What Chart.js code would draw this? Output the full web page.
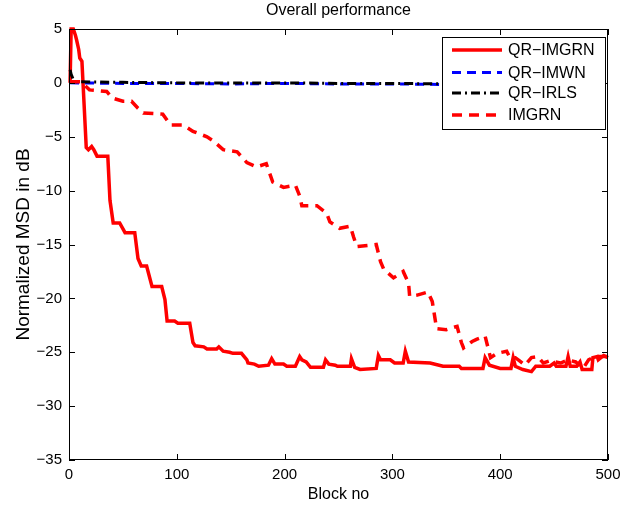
<!DOCTYPE html>
<html>
<head>
<meta charset="utf-8">
<script src="https://cdn.jsdelivr.net/npm/chart.js@4.4.1/dist/chart.umd.min.js"></script>
<style>
  body { margin: 0; background: #fff; }
  #wrap { width: 620px; height: 511px; }
</style>
</head>
<body>
<div id="wrap"><canvas id="msdChart" width="620" height="511"></canvas></div>
<script>
// Datos: [bloque, dB]
const qrImgrn = [
  [1, 0], [2, 5], [4, 5], [6, 4.4], [7, 4], [9, 3.1], [10, 2.3], [12, 2], [13, 0], [16, -6],
  [18, -6.2], [21, -5.9], [23, -6.2], [26, -6.8], [36, -6.8], [38, -10.9], [41, -13], [47, -13],
  [52, -13.9], [61, -13.9], [64, -16.3], [67, -17], [72, -17], [77, -18.9], [86, -18.9], [89, -20.1],
  [91, -22.1], [98, -22.1], [101, -22.3], [112, -22.3], [115, -24.1], [117, -24.4], [125, -24.5],
  [128, -24.7], [137, -24.7], [139, -24.5], [143, -24.9], [149, -25], [152, -25.1], [160, -25.1],
  [165, -25.7], [166, -26], [172, -26.1], [176, -26.3], [185, -26.2], [188, -25.6], [191, -26.1],
  [199, -26.1], [202, -26.3], [210, -26.3], [214, -25.4], [216, -25.7], [220, -25.9], [224, -26.4],
  [236, -26.4], [238, -25.7], [241, -26.1], [247, -26.2], [249, -26.3], [261, -26.3], [262, -25.6],
  [265, -26.4], [270, -26.6], [285, -26.5], [287, -25.3], [289, -25.7], [298, -25.7], [302, -26],
  [310, -26], [312, -24.9], [315, -25.9], [335, -26], [347, -26.3], [362, -26.3], [364, -26.5],
  [384, -26.5], [386, -25.5], [390, -26.2], [400, -26.5], [410, -26.5], [412, -25.5], [414, -26.3],
  [421, -26.6], [429, -26.8], [433, -26.3], [446, -26.3], [450, -26], [452, -26.3], [461, -26.3],
  [463, -25.4], [465, -26.3], [471, -26.3], [474, -25.9], [476, -26.6], [485, -26.6], [486, -25.5],
  [490, -25.4], [491, -25.7], [496, -25.3], [500, -25.5]
];
const qrImwn = [
  [1, 0], [50, -0.05], [100, -0.05], [150, -0.1], [200, -0.05], [250, -0.1], [300, -0.1],
  [350, -0.15], [400, -0.15], [450, -0.2], [500, -0.2]
];
const qrIrls = [
  [1, 1.2], [2, 0.8], [4, 0.3], [6, 0.1], [50, 0.05], [100, 0], [150, 0], [200, 0],
  [250, -0.05], [300, -0.05], [350, -0.1], [400, -0.1], [450, -0.1], [500, -0.15]
];
const imgrn = [
  [1, 0.1], [11, 0.1], [19, -0.65], [35, -0.8], [40, -1.4], [50, -1.7], [58, -1.7], [64, -2.35],
  [69, -2.8], [87, -2.9], [94, -3.9], [106, -3.9], [115, -4.5], [128, -5], [134, -5.4], [143, -6.2],
  [156, -6.4], [165, -7.4], [174, -7.8], [183, -7.5], [189, -9.2], [199, -9.7], [210, -9.5],
  [214, -10.5], [216, -11.4], [230, -11.4], [239, -12.1], [242, -12.9], [251, -13.5], [261, -13.3],
  [264, -14.3], [267, -15.2], [285, -15], [289, -16.6], [292, -17.3], [301, -18.1], [310, -17.5],
  [315, -18.6], [316, -19.8], [323, -19.7], [333, -19.4], [337, -20.3], [341, -22.8], [350, -22.9],
  [360, -22.6], [364, -24.1], [366, -24.6], [374, -24], [378, -23.8], [386, -23.5], [388, -24.3],
  [391, -25.5], [397, -25.1], [406, -24.9], [409, -25.5], [414, -25.5], [418, -25.8], [423, -26.2],
  [429, -25.5], [435, -25.4], [440, -26], [446, -25.8], [456, -26], [463, -25.7], [470, -25.9],
  [477, -26.5], [482, -25.7], [488, -25.4], [500, -25.4]
];
const seriesNames = ['QR\u2212IMGRN', 'QR\u2212IMWN', 'QR\u2212IRLS', 'IMGRN'];
const xTicks = [0, 100, 200, 300, 400, 500];
const yTicks = [5, 0, -5, -10, -15, -20, -25, -30, -35];

const FONT = '"Liberation Sans", Arial, Helvetica, sans-serif';
const minus = v => String(v).replace('-', '\u2212');
const toXY = arr => arr.map(p => ({ x: p[0], y: p[1] }));

// Caja, marcas hacia dentro, título y leyenda al estilo MATLAB
const matlabFrame = {
  id: 'matlabFrame',
  afterDraw(chart) {
    const c = chart.ctx;
    const a = chart.chartArea;
    const xs = chart.scales.x, ys = chart.scales.y;
    c.save();
    c.strokeStyle = '#000';
    c.lineWidth = 1;
    c.strokeRect(a.left + 0.5, a.top + 0.5, a.right - a.left - 1, a.bottom - a.top - 1);
    c.beginPath();
    xTicks.forEach(t => {
      const px = Math.round(xs.getPixelForValue(t)) + 0.5;
      c.moveTo(px, a.bottom); c.lineTo(px, a.bottom - 6);
      c.moveTo(px, a.top); c.lineTo(px, a.top + 6);
    });
    yTicks.forEach(t => {
      const py = Math.round(ys.getPixelForValue(t)) + 0.5;
      c.moveTo(a.left, py); c.lineTo(a.left + 6, py);
      c.moveTo(a.right, py); c.lineTo(a.right - 6, py);
    });
    c.stroke();

    // título
    c.fillStyle = '#000';
    c.font = '16px ' + FONT;
    c.textAlign = 'center';
    c.textBaseline = 'middle';
    c.fillText('Overall performance', (a.left + a.right) / 2, 11);

    // leyenda
    const bx = 442, by = 37, bw = 163, bh = 92;
    c.fillStyle = '#fff';
    c.fillRect(bx, by, bw, bh);
    c.strokeRect(bx + 0.5, by + 0.5, bw, bh);
    const rows = [50, 72.5, 93, 115];
    chart.data.datasets.forEach((ds, i) => {
      c.beginPath();
      c.strokeStyle = ds.borderColor;
      c.lineWidth = ds.borderWidth;
      c.setLineDash(ds.borderDash || []);
      c.moveTo(452, rows[i]);
      c.lineTo(502, rows[i]);
      c.stroke();
      c.setLineDash([]);
      c.fillStyle = '#000';
      c.textAlign = 'left';
      c.fillText(ds.label, 508, rows[i] + 1);
    });
    c.restore();
  }
};

const ctx = document.getElementById('msdChart').getContext('2d');
const msdChart = new Chart(ctx, {
  type: 'line',
  data: {
    datasets: [
      { label: seriesNames[0], data: toXY(qrImgrn), borderColor: '#ff0000', borderWidth: 3.5, order: 4 },
      { label: seriesNames[1], data: toXY(qrImwn), borderColor: '#0000ff', borderWidth: 3, borderDash: [9, 6], order: 3 },
      { label: seriesNames[2], data: toXY(qrIrls), borderColor: '#000000', borderWidth: 3, borderDash: [9, 4, 2, 4], order: 2 },
      { label: seriesNames[3], data: toXY(imgrn), borderColor: '#ff0000', borderWidth: 3.5, borderDash: [10, 7], order: 1 }
    ]
  },
  options: {
    responsive: false,
    animation: false,
    layout: { padding: { top: 29, right: 12, left: 0, bottom: 0 } },
    elements: {
      point: { radius: 0 },
      line: { tension: 0, fill: false, borderCapStyle: 'butt' }
    },
    datasets: { line: { clip: 3 } },
    scales: {
      x: {
        type: 'linear',
        min: 0, max: 500,
        afterFit: s => { s.height = 51; s.paddingLeft = 0; s.paddingRight = 0; },
        grid: { display: false, drawTicks: false },
        border: { display: false },
        ticks: {
          stepSize: 100, padding: 6, color: '#000', maxRotation: 0,
          font: { size: 15, family: FONT },
          callback: v => minus(v)
        },
        title: {
          display: true, text: 'Block no', color: '#000',
          font: { size: 16, family: FONT }, padding: { top: 0, bottom: 7 }
        }
      },
      y: {
        min: -35, max: 5,
        afterFit: s => { s.width = 69; s.paddingTop = 0; s.paddingBottom = 0; },
        grid: { display: false, drawTicks: false },
        border: { display: false },
        ticks: {
          stepSize: 5, padding: 7, color: '#000',
          font: { size: 15, family: FONT },
          callback: v => minus(v)
        },
        title: {
          display: true, text: 'Normalized MSD in dB', color: '#000',
          font: { size: 19, family: FONT }, padding: { top: 12, bottom: 0 }
        }
      }
    },
    plugins: {
      legend: { display: false },
      title: { display: false },
      tooltip: { enabled: false }
    }
  },
  plugins: [matlabFrame]
});
</script>
</body>
</html>
